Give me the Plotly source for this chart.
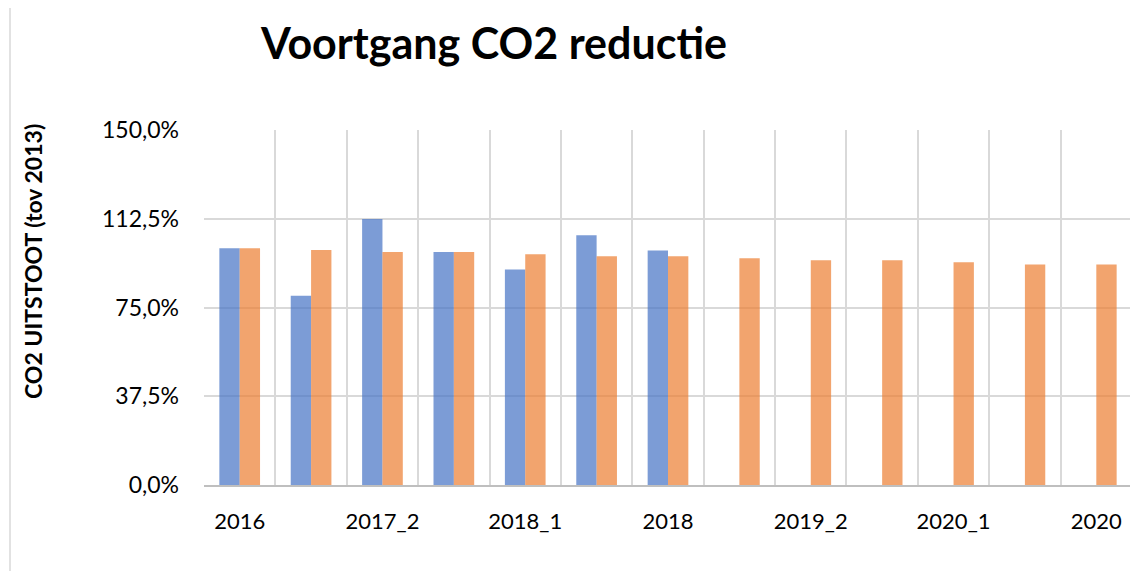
import plotly.graph_objects as go

categories = ["2016", "2017_1", "2017_2", "2017", "2018_1", "2018_2", "2018",
              "2019_1", "2019_2", "2019", "2020_1", "2020_2", "2020"]
shown_labels = ["2016", "", "2017_2", "", "2018_1", "", "2018",
                "", "2019_2", "", "2020_1", "", "2020"]
actual = [100.0, 80.0, 112.4, 98.4, 91.1, 105.5, 99.1,
          None, None, None, None, None, None]
target = [100.0, 99.3, 98.4, 98.4, 97.5, 96.7, 96.7,
          95.8, 95.0, 95.0, 94.1, 93.2, 93.2]
y_ticks = [0, 37.5, 75, 112.5, 150]
y_tick_text = ["0,0%", "37,5%", "75,0%", "112,5%", "150,0%"]

OFF = 8  # page body margin
W, H = 1138 - OFF, 571 - OFF
L, R, T, B = 204 - OFF, 6, 130 - OFF, 86
pw, ph = W - L - R, H - T - B


def px_x(x):
    return (x - OFF - L) / pw


def px_y(y):
    return (H - B - (y - OFF)) / ph


FONT = "Lato"
xs = list(range(len(categories)))
idx_labels = [i for i, t in enumerate(shown_labels) if t]

fig = go.Figure()
fig.add_trace(go.Bar(x=xs, y=actual, name="Actueel",
                     marker=dict(color="#4472C4", opacity=0.7, line=dict(width=0)),
                     customdata=categories))
fig.add_trace(go.Bar(x=xs, y=target, name="Doel",
                     marker=dict(color="#ED7D31", opacity=0.7, line=dict(width=0)),
                     customdata=categories))

fig.update_layout(
    width=W, height=H,
    margin=dict(l=L, r=R, t=T, b=B),
    paper_bgcolor="white", plot_bgcolor="white",
    barmode="group", bargap=0.43, bargroupgap=0,
    showlegend=False,
    font=dict(family=FONT, color="black"),
    title=dict(text="<b>Voortgang CO2 reductie</b>", font=dict(size=43, family=FONT, color="black"),
               x=(494 - OFF) / W, xanchor="center", xref="container",
               y=1 - (44 - OFF) / H, yanchor="middle", yref="container"),
)
fig.update_xaxes(
    range=[-0.5, len(categories) - 0.5],
    tickmode="array", tickvals=[xs[i] for i in idx_labels],
    ticktext=[shown_labels[i] for i in idx_labels],
    showgrid=False, zeroline=False,
    showline=True, linecolor="#bfbfbf", linewidth=2,
    ticks="", ticklabelstandoff=16,
    tickfont=dict(size=22, family=FONT, color="black"),
    minor=dict(tickmode="array", tickvals=[i - 0.5 for i in range(len(categories) + 1)],
               showgrid=True, gridcolor="#d9d9d9", gridwidth=2, ticks=""),
)
fig.update_yaxes(
    range=[0, 150], tickmode="array", tickvals=y_ticks, ticktext=y_tick_text,
    showgrid=True, gridcolor="#d9d9d9", gridwidth=2, zeroline=False,
    showline=False, ticks="", ticklabelstandoff=24,
    tickfont=dict(size=23, family=FONT, color="black"),
)
fig.add_annotation(text="<b>CO2 UITSTOOT (tov 2013)</b>", textangle=-90,
                   xref="paper", yref="paper", x=px_x(33), y=px_y(262),
                   xanchor="center", yanchor="middle", showarrow=False,
                   font=dict(size=23, family=FONT, color="black"))
fig.add_shape(type="rect", xref="paper", yref="paper",
              x0=px_x(10), x1=px_x(1160),
              y0=px_y(600), y1=px_y(4),
              line=dict(color="#d9d9d9", width=1.5), fillcolor="rgba(0,0,0,0)", layer="below")

fig.write_html("out.html")
